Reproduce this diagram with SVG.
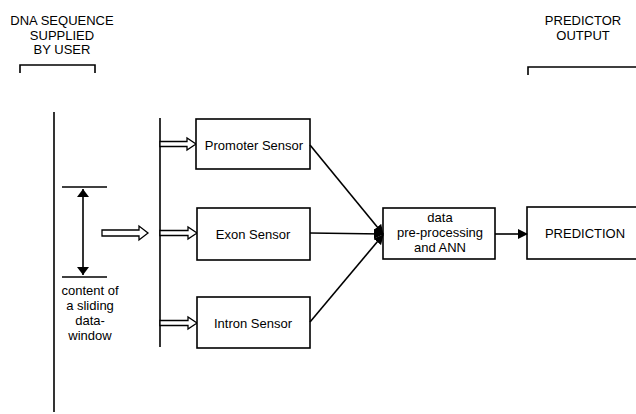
<svg xmlns="http://www.w3.org/2000/svg" width="636" height="414" viewBox="0 0 636 414">
<defs>
<style>
text{font-family:"Liberation Sans",Arial,sans-serif;fill:#000;text-anchor:middle;font-size:13px}
.box{fill:#fff;stroke:#000;stroke-width:1.6}
.ln{fill:none;stroke:#000;stroke-width:1.6}
.hol{fill:#fff;stroke:#000;stroke-width:1.3;stroke-linejoin:miter}
</style>
<marker id="ah" markerWidth="10" markerHeight="10" refX="9" refY="5" orient="auto" markerUnits="userSpaceOnUse" viewBox="0 0 10 10">
<path d="M0,0 L10,5 L0,10 z" fill="#000"/>
</marker>
<marker id="ahs" markerWidth="8" markerHeight="12" refX="8" refY="6" orient="auto-start-reverse" markerUnits="userSpaceOnUse" viewBox="0 0 8 12">
<path d="M0,0 L8,6 L0,12 z" fill="#000"/>
</marker>
</defs>
<rect width="636" height="414" fill="#fff"/>

<g id="labels">
<text x="62" y="25">DNA SEQUENCE</text>
<text x="62" y="39.5">SUPPLIED</text>
<text x="62" y="54">BY USER</text>
<path class="ln" d="M20,73 V65 H95 V73"/>
<text x="583" y="25">PREDICTOR</text>
<text x="583" y="39.5">OUTPUT</text>
<path class="ln" d="M528,75 V67 H636"/>
</g>

<g id="sequence">
<line class="ln" x1="54" y1="112" x2="54" y2="412"/>
<line class="ln" x1="62" y1="187" x2="107" y2="187"/>
<line class="ln" x1="62" y1="277" x2="107" y2="277"/>
<line class="ln" x1="83" y1="189" x2="83" y2="275" marker-start="url(#ahs)" marker-end="url(#ahs)"/>
<text x="90" y="295">content of</text>
<text x="90" y="310">a sliding</text>
<text x="90" y="325">data-</text>
<text x="90" y="340">window</text>
<path class="hol" d="M102,230 H139 V226 L148,233 L139,240 V236 H102 Z"/>
</g>

<g id="distributor">
<line class="ln" x1="160" y1="118" x2="160" y2="347"/>
<path class="hol" d="M160,141.5 H187 V138 L196,144 L187,150 V146.5 H160 Z"/>
<path class="hol" d="M160,230.5 H188 V227 L197,233 L188,239 V235.5 H160 Z"/>
<path class="hol" d="M160,320.5 H188 V317 L197,323 L188,329 V325.5 H160 Z"/>
</g>

<g id="promoter">
<rect class="box" x="196" y="119" width="114" height="50"/>
<text x="254" y="149.5">Promoter Sensor</text>
</g>
<g id="exon">
<rect class="box" x="197" y="208" width="113" height="52"/>
<text x="253" y="238.5">Exon Sensor</text>
</g>
<g id="intron">
<rect class="box" x="197" y="297" width="113" height="51"/>
<text x="253" y="327.5">Intron Sensor</text>
</g>
<g id="ann">
<rect class="box" x="383" y="208" width="112" height="51"/>
<text x="440" y="222">data</text>
<text x="440" y="237">pre-processing</text>
<text x="440" y="252">and ANN</text>
</g>
<g id="prediction">
<rect class="box" x="527" y="207" width="120" height="52"/>
<text x="585" y="238">PREDICTION</text>
</g>

<g id="connectors">
<line class="ln" x1="310" y1="145" x2="383" y2="234" marker-end="url(#ah)"/>
<line class="ln" x1="310" y1="233" x2="383" y2="234" marker-end="url(#ah)"/>
<line class="ln" x1="310" y1="322" x2="383" y2="235" marker-end="url(#ah)"/>
<line class="ln" x1="495" y1="234" x2="527" y2="234" marker-end="url(#ah)"/>
</g>
</svg>
